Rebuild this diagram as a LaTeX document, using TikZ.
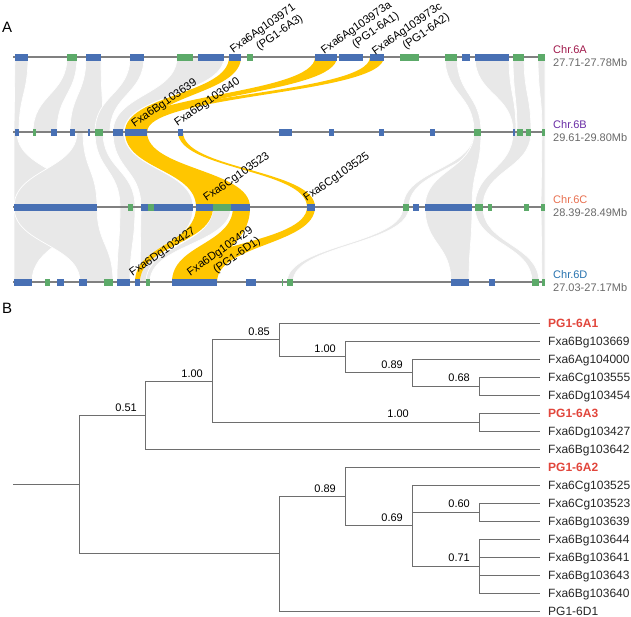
\documentclass[tikz,border=0pt]{standalone}
\usepackage{fontspec}
\setmainfont{Liberation Sans}
\usetikzlibrary{positioning}

\definecolor{geneblue}{RGB}{72,112,180}
\definecolor{genegreen}{RGB}{92,170,105}
\definecolor{chrgray}{RGB}{128,128,128}
\definecolor{ribgray}{RGB}{232,232,232}
\definecolor{ribgold}{RGB}{255,198,0}
\definecolor{treegray}{RGB}{110,110,110}
\definecolor{pgred}{RGB}{225,70,60}
\definecolor{chrA}{RGB}{160,25,75}
\definecolor{chrB}{RGB}{105,45,165}
\definecolor{chrC}{RGB}{232,112,80}
\definecolor{chrD}{RGB}{40,115,175}
\definecolor{rangegray}{RGB}{105,105,105}

% ribbon between [#2,#3] on row #6 and [#4,#5] on row #7
\newcommand{\synteny}[7]{%
  \path[#1] (#2,#6) .. controls (#2,{(#6+#7)/2}) and (#4,{(#6+#7)/2}) .. (#4,#7)
    -- (#5,#7) .. controls (#5,{(#6+#7)/2}) and (#3,{(#6+#7)/2}) .. (#3,#6) -- cycle;}

\begin{document}
\begin{tikzpicture}[x=1pt, y=-1pt,
  grayrib/.style={fill=ribgray, draw=white, line width=0.7pt},
  goldrib/.style={fill=ribgold},
  chrline/.style={draw=chrgray, line width=2.4pt},
  genelabel/.style={font=\fontsize{11.3}{13}\selectfont, rotate=35,
    anchor=south west, inner sep=0pt, align=right},
  chrname/.style={font=\fontsize{11}{13}\selectfont, anchor=base west, inner sep=0pt},
  chrrange/.style={chrname, text=rangegray},
  panel/.style={font=\fontsize{15}{17}\selectfont, anchor=base west, inner sep=0pt},
  branch/.style={draw=treegray, line width=0.9pt},
  leaf/.style={font=\fontsize{12}{14}\selectfont, anchor=west, inner xsep=8pt,
    inner ysep=0pt, text depth=0pt, text=black!85},
  pgleaf/.style={leaf, text=pgred, font=\fontsize{12}{14}\selectfont\bfseries},
  support/.style={font=\fontsize{11}{13}\selectfont, anchor=base east, inner sep=0pt}
]
\useasboundingbox (0,0) rectangle (631,616);

% panel A: synteny
\node[panel] (pa) at (2,32) {A};

% grey links
\foreach \a/\b/\c/\d in {15/28/14/19, 67/77/33/57, 86/101/70/103, 130/144/95/110,
    177/224/113/124, 445/457/474/481, 475/509/513/516, 513/524/517/531, 538/545/542/545}
  \synteny{grayrib}{\a}{\b}{\c}{\d}{57}{132};
\foreach \a/\b/\c/\d in {14/17/14/80, 77/83/14/97, 95/103/120/135, 113/124/141/193,
    474/481/403/409, 474/481/425/472, 513/531/475/483, 542/545/541/545}
  \synteny{grayrib}{\a}{\b}{\c}{\d}{132}{207};
\foreach \a/\b/\c/\d in {14/80/14/32, 14/97/80/113, 120/135/117/130, 141/193/140/150,
    213/231/146/150, 403/409/287/293, 425/472/451/469, 475/483/532/539, 541/545/542/545}
  \synteny{grayrib}{\a}{\b}{\c}{\d}{207}{282};

% PG1 links
\foreach \a/\b/\c/\d in {229/241/125/147, 315/337/125/147, 370/384/125/147}
  \synteny{goldrib}{\a}{\b}{\c}{\d}{57}{132};
\foreach \a/\b/\c/\d in {125/147/196/250, 178/183/307/315}
  \synteny{goldrib}{\a}{\b}{\c}{\d}{132}{207};
\foreach \a/\b/\c/\d in {196/213/135/140, 233/250/172/217, 307/315/172/217}
  \synteny{goldrib}{\a}{\b}{\c}{\d}{207}{282};

% chromosomes
\foreach \y in {57,132,207,282}
  \draw[chrline] (13,\y) -- (545,\y);

% genes
\foreach \a/\b in {15/28, 86/101, 130/144, 198/224, 229/241, 315/337, 339/363,
    370/384, 462/470, 475/509}
  \fill[geneblue] (\a,53.5) rectangle (\b,60.5);
\foreach \a/\b in {67/77, 177/193, 247/253, 400/419, 445/457, 513/524, 538/545}
  \fill[genegreen] (\a,53.5) rectangle (\b,60.5);
\foreach \a/\b in {15/19, 51/57, 70/75, 88/90, 113/123, 125/147, 178/183, 279/292,
    329/334, 379/384, 430/435, 513/515}
  \fill[geneblue] (\a,128.5) rectangle (\b,135.5);
\foreach \a/\b in {33/36, 95/103, 474/481, 517/523, 526/531, 542/545}
  \fill[genegreen] (\a,128.5) rectangle (\b,135.5);
\foreach \a/\b in {14/97, 141/148, 154/193, 196/213, 231/250, 307/315, 413/419, 425/472}
  \fill[geneblue] (\a,203.5) rectangle (\b,210.5);
\foreach \a/\b in {128/133, 148/154, 213/231, 403/409, 475/483, 488/492, 524/529, 541/545}
  \fill[genegreen] (\a,203.5) rectangle (\b,210.5);
\foreach \a/\b in {14/32, 57/64, 79/87, 117/130, 135/140, 172/217, 246/256, 451/469, 489/495}
  \fill[geneblue] (\a,278.5) rectangle (\b,285.5);
\foreach \a/\b in {45/50, 104/113, 146/150, 282/283, 287/293, 532/539, 542/545}
  \fill[genegreen] (\a,278.5) rectangle (\b,285.5);

% gene labels
\node[genelabel] (g103971) at (242,66) {Fxa6Ag103971\\(PG1-6A3)};
\node[genelabel] (g103973a) at (333,67) {Fxa6Ag103973a\\(PG1-6A1)};
\node[genelabel] (g103973c) at (384,68) {Fxa6Ag103973c\\(PG1-6A2)};
\node[genelabel] (g103639) at (136,130) {Fxa6Bg103639};
\node[genelabel] (g103640) at (179,129) {Fxa6Bg103640};
\node[genelabel] (g103523) at (208,204) {Fxa6Cg103523};
\node[genelabel] (g103525) at (308,204) {Fxa6Cg103525};
\node[genelabel] (g103427) at (134,279) {Fxa6Dg103427};
\node[genelabel] (g103429) at (199,289) {Fxa6Dg103429\\(PG1-6D1)};

% chromosome names
\node[chrname, text=chrA] (cA) at (553,53.5) {Chr.6A};
\node[chrrange] (rA) at (553,66.5) {27.71-27.78Mb};
\node[chrname, text=chrB] (cB) at (553,128.5) {Chr.6B};
\node[chrrange] (rB) at (553,141.5) {29.61-29.80Mb};
\node[chrname, text=chrC] (cC) at (553,203.5) {Chr.6C};
\node[chrrange] (rC) at (553,216.5) {28.39-28.49Mb};
\node[chrname, text=chrD] (cD) at (553,278.5) {Chr.6D};
\node[chrrange] (rD) at (553,291.5) {27.03-27.17Mb};

% panel B: tree
\node[panel] (pb) at (2,313) {B};

\foreach \name/\txt/\sty [count=\k from 0] in {
    a1/PG1-6A1/pgleaf, b669/Fxa6Bg103669/leaf, a000/Fxa6Ag104000/leaf,
    c555/Fxa6Cg103555/leaf, d454/Fxa6Dg103454/leaf, a3/PG1-6A3/pgleaf,
    d427/Fxa6Dg103427/leaf, b642/Fxa6Bg103642/leaf, a2/PG1-6A2/pgleaf,
    c525/Fxa6Cg103525/leaf, c523/Fxa6Cg103523/leaf, b639/Fxa6Bg103639/leaf,
    b644/Fxa6Bg103644/leaf, b641/Fxa6Bg103641/leaf, b643/Fxa6Bg103643/leaf,
    b640/Fxa6Bg103640/leaf, d1/PG1-6D1/leaf}
  \node[\sty] (\name) at (540,{323+18*\k}) {\txt};

\coordinate (stub) at (13,484.3);
\coordinate (root) at (79,484.3);
\coordinate (n51) at (145,415);
\coordinate (nbot) at (279,553.6);
\coordinate (n100) at (212,381);
\coordinate (n85) at (279,339.9);
\coordinate (n100b) at (345,356.75);
\coordinate (n89) at (412,372.5);
\coordinate (n68) at (479,386);
\coordinate (n100c) at (479,422);
\coordinate (n89b) at (345,496.25);
\coordinate (n69) at (412,525.5);
\coordinate (n60) at (479,512);
\coordinate (n71) at (479,566);

\draw[branch] (stub) -- (root);
\foreach \p/\c in {root/n51, root/nbot, n51/n100, n51/b642.west, n100/n85,
    n100/n100c, n85/a1.west, n85/n100b, n100b/b669.west, n100b/n89,
    n89/a000.west, n89/n68, n68/c555.west, n68/d454.west, n100c/a3.west,
    n100c/d427.west, nbot/n89b, nbot/d1.west, n89b/a2.west, n89b/n69,
    n69/c525.west, n69/n60, n69/n71, n60/c523.west, n60/b639.west,
    n71/b644.west, n71/b641.west, n71/b643.west, n71/b640.west}
  \draw[branch] (\p) |- (\c);

% support values
\node[support] (s51) at (137,411) {0.51};
\node[support] (s100) at (203,377) {1.00};
\node[support] (s85) at (270,335.5) {0.85};
\node[support] (s100b) at (336,352.5) {1.00};
\node[support] (s89) at (403,368) {0.89};
\node[support] (s68) at (470,381.5) {0.68};
\node[support] (s100c) at (409,417.5) {1.00};
\node[support] (s89b) at (336,492) {0.89};
\node[support] (s69) at (403,521) {0.69};
\node[support] (s60) at (470,507.5) {0.60};
\node[support] (s71) at (470,561.5) {0.71};
\end{tikzpicture}
\end{document}
